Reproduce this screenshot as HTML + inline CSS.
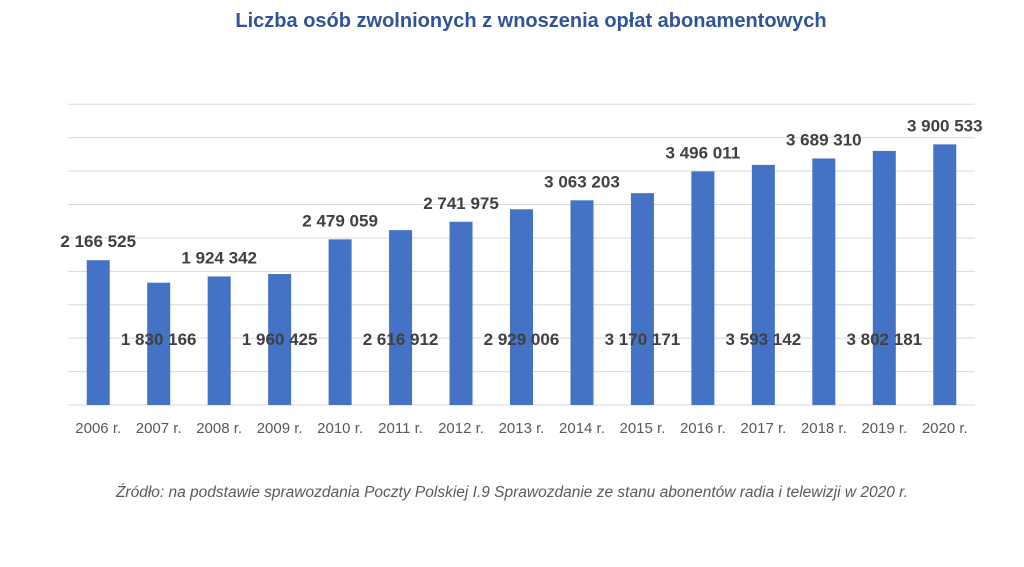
<!DOCTYPE html>
<html><head><meta charset="utf-8"><style>
body{margin:0;background:#fff;width:1024px;height:567px;overflow:hidden}
svg{display:block}
</style></head><body>
<svg id="chart" width="1024" height="567" xmlns="http://www.w3.org/2000/svg">
<text x="531" y="27" text-anchor="middle" font-family="Liberation Sans, sans-serif" font-weight="bold" font-size="20" fill="#2f5597">Liczba osób zwolnionych z wnoszenia opłat abonamentowych</text>
<g id="grid"></g>
<g id="bars"></g>
<g id="labels"></g>
<g id="xaxis"></g>
<text x="512" y="497" text-anchor="middle" font-family="Liberation Sans, sans-serif" font-style="italic" font-size="15.5" fill="#595959">Źródło: na podstawie sprawozdania Poczty Polskiej I.9 Sprawozdanie ze stanu abonentów radia i telewizji w 2020 r.</text>
</svg>
<script>
const categories = ["2006 r.","2007 r.","2008 r.","2009 r.","2010 r.","2011 r.","2012 r.","2013 r.","2014 r.","2015 r.","2016 r.","2017 r.","2018 r.","2019 r.","2020 r."];
const values = [2166525,1830166,1924342,1960425,2479059,2616912,2741975,2929006,3063203,3170171,3496011,3593142,3689310,3802181,3900533];
const valueLabels = ["2 166 525","1 830 166","1 924 342","1 960 425","2 479 059","2 616 912","2 741 975","2 929 006","3 063 203","3 170 171","3 496 011","3 593 142","3 689 310","3 802 181","3 900 533"];
const gridTicks = [0,500000,1000000,1500000,2000000,2500000,3000000,3500000,4000000,4500000];

const NS = "http://www.w3.org/2000/svg";
const X0 = 68, X1 = 975, Y0 = 405, YTOP = 104.3, VMAX = 4500000;
const band = (X1 - X0) / categories.length;
const xc = i => X0 + band * (i + 0.5);
const y = v => Y0 - (v / VMAX) * (Y0 - YTOP);
function mk(tag, attrs, parent){const e=document.createElementNS(NS,tag);for(const k in attrs)e.setAttribute(k,attrs[k]);parent.appendChild(e);return e;}

const grid = document.getElementById('grid');
gridTicks.forEach(t => {
  const l = mk('line',{x1:X0,x2:X1,y1:y(t),y2:y(t),stroke:'#d9d9d9','stroke-width':1},grid);
  
  
});
const bars = document.getElementById('bars');
const labels = document.getElementById('labels');
const xaxis = document.getElementById('xaxis');
values.forEach((v,i) => {
  const r = mk('rect',{x:xc(i)-11.5,y:y(v),width:23,height:Y0-y(v),fill:'#4472c4'},bars);
  
  
  const ly = i % 2 === 0 ? y(v) - 13 : 345;
  const t = mk('text',{x:xc(i),y:ly,'text-anchor':'middle','font-family':'Liberation Sans, sans-serif','font-weight':'bold','font-size':17,fill:'#404040'},labels);
  t.textContent = valueLabels[i];
  
  
  const c = mk('text',{x:xc(i),y:433,'text-anchor':'middle','font-family':'Liberation Sans, sans-serif','font-size':15,fill:'#595959'},xaxis);
  c.textContent = categories[i];
  
  
});
</script>
</body></html>
